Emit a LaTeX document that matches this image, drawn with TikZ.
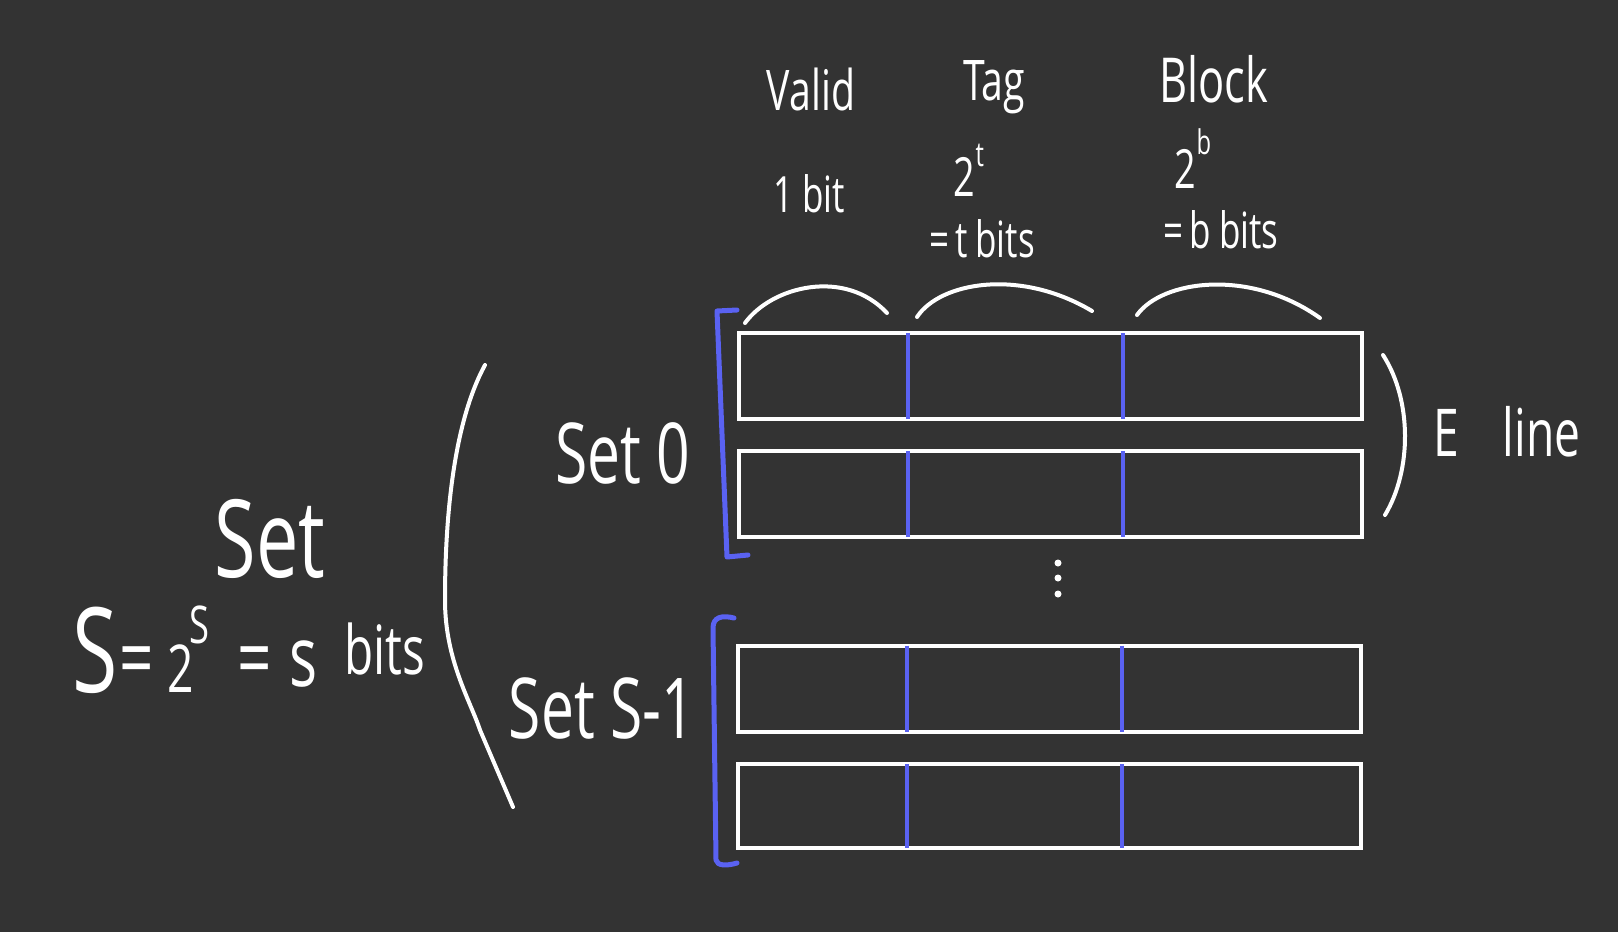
\documentclass[tikz,border=0pt]{standalone}
\usepackage{fontspec}
\setmainfont{Open Sans}[FakeStretch=0.7]
\newcommand\fsz[1]{\fontsize{#1}{#1}\selectfont}
\definecolor{bgc}{HTML}{333333}
\definecolor{penblue}{HTML}{5A62F2}
\begin{document}
\begin{tikzpicture}[x=1pt,y=-1pt,
  cell/.style={draw=white, line width=4pt, minimum width=623pt, minimum height=86pt, inner sep=0pt, outer sep=0pt},
  divline/.style={draw=penblue, line width=3.5pt},
  bracketline/.style={draw=penblue, line width=5pt, line cap=round, line join=round},
  pen/.style={draw=white, line width=4pt, line cap=round},
  lbl/.style={text=white, inner sep=0pt, outer sep=0pt}]
\fill[bgc] (0,0) rectangle (1618,932);
\useasboundingbox (0,0) rectangle (1618,932);
% rows
\node[cell] (r1) at (1050.5,376) {};
\node[cell] (r2) at (1050.5,494) {};
\node[cell] (r3) at (1049.5,688.5) {};
\node[cell, minimum height=84pt] (r4) at (1049.5,806) {};
\foreach \r in {r1,r2,r3,r4}{
  \draw[divline] ([xshift=169pt]\r.north west) -- ([xshift=169pt]\r.south west);
  \draw[divline] ([xshift=384pt]\r.north west) -- ([xshift=384pt]\r.south west);
}
% blue brackets
\draw[bracketline] (737,310) -- (717,311) -- (727,557) -- (748,555);
\draw[bracketline] (734,618) .. controls (722,615) and (713,617) .. (713,628) -- (716,860) .. controls (717,866) and (727,866) .. (737,863);
% field braces
\draw[pen] (745,323) .. controls (772,286) and (845,268) .. (887,313);
\draw[pen] (917,317) .. controls (940,282) and (1020,268) .. (1092,311);
\draw[pen] (1137,315) .. controls (1162,280) and (1250,268) .. (1320,318);
% right paren
\draw[pen] (1383,355) .. controls (1412,400) and (1412,470) .. (1385,515);
% big left paren
\draw[pen] (485,365) .. controls (455,420) and (445,510) .. (445,600)
  .. controls (445,660) and (470,700) .. (480,730) -- (513,807);
% dots
\foreach \yy [count=\i] in {563,578,594}{
  \node[circle, fill=white, inner sep=0pt, minimum size=7pt] (dot\i) at (1058,\yy) {};
}
% header labels
\node[lbl, anchor=base] (valid) at (811,110) {\fsz{56}Valid};
\node[lbl, anchor=base] (tag) at (994,100) {\fsz{56}Tag};
\node[lbl, anchor=base] (block) at (1214,102) {\fsz{62}Block};
\node[lbl, anchor=base] (onebit) at (809,212) {\fsz{50}1 bit};
\node[lbl, anchor=base west] (twot) at (953,196) {\fsz{54}2\kern1pt\raisebox{0.55em}{\fsz{34}t}};
\node[lbl, anchor=base] (tbits) at (982,257) {\fsz{50}=\kern6pt t\kern8pt bits};
\node[lbl, anchor=base west] (twob) at (1174,188) {\fsz{54}2\kern1pt\raisebox{0.62em}{\fsz{34}b}};
\node[lbl, anchor=base] (bbits) at (1221,248) {\fsz{50}=\kern6pt b\kern8pt bits};
% set labels
\node[lbl, anchor=base] (set0) at (623,483) {\fsz{84}Set 0};
\node[lbl, anchor=base] (setS) at (602,738) {\fsz{84}Set S-1};
\node[lbl, anchor=base] (setbig) at (270,577) {\fsz{108}Set};
\node[lbl, anchor=base west] (formula) at (72,692)
  {\fsz{118}S\kern2pt\raisebox{4pt}{\fsz{86}=}\kern14pt{\fsz{66}2}\kern-5pt\raisebox{49pt}{\fsz{52}S}\kern28pt\raisebox{4pt}{\fsz{86}=}\kern18pt\raisebox{6pt}{\fsz{84}s}\kern27pt\raisebox{18pt}{\fsz{68}bits}};
\node[lbl, anchor=base west] (eline) at (1433,456) {\fsz{66}E\kern44pt{\fsz{66}line}};
\end{tikzpicture}
\end{document}
